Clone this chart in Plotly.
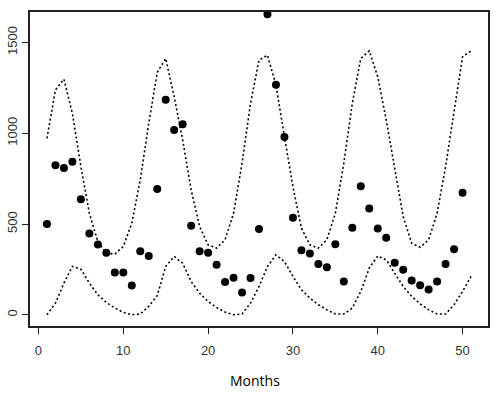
import plotly.graph_objects as go

months = list(range(1, 51))
observed = [500, 823, 808, 843, 636, 447, 387, 341, 233, 233,
            161, 350, 324, 693, 1184, 1018, 1049, 490, 350, 341,
            275, 180, 204, 123, 202, 473, 1656, 1267, 979, 535,
            356, 337, 280, 262, 389, 183, 480, 708, 585, 475,
            424, 286, 248, 189, 163, 139, 183, 279, 361, 672]

band_months = list(range(1, 52))
upper = [972, 1238, 1298, 1109, 816, 559, 403, 339, 334, 376,
         504, 743, 1054, 1335, 1412, 1201, 963, 688, 486, 385,
         367, 413, 559, 834, 1164, 1403, 1430, 1265, 981, 706,
         477, 385, 367, 413, 559, 834, 1164, 1412, 1454, 1311,
         1073, 798, 541, 394, 372, 413, 559, 816, 1128, 1421, 1454]
lower = [0, 64, 174, 266, 251, 174, 110, 68, 37, 13,
         0, 4, 46, 105, 266, 321, 284, 183, 119, 73,
         40, 15, 0, 4, 64, 156, 266, 330, 293, 211,
         138, 92, 55, 27, 4, 4, 37, 128, 257, 324,
         302, 229, 156, 101, 60, 27, 4, 4, 55, 128, 211]

x_ticks = [0, 10, 20, 30, 40, 50]
y_ticks = [0, 500, 1000, 1500]

fig = go.Figure()
for band in (upper, lower):
    fig.add_trace(go.Scatter(x=band_months, y=band, mode="lines",
                             line=dict(color="black", width=1.6, dash="2px,2.5px"),
                             showlegend=False, hoverinfo="skip"))
fig.add_trace(go.Scatter(x=months, y=observed, mode="markers",
                         marker=dict(color="black", size=8),
                         showlegend=False, cliponaxis=False))

axis_common = dict(showline=True, linecolor="#222", linewidth=1.5, mirror=True,
                   showgrid=False, zeroline=False, ticks="outside", ticklen=6,
                   tickcolor="#222", tickwidth=1, automargin=False,
                   tickfont=dict(family="Liberation Sans, Arial", size=13, color="#333"))

fig.update_layout(
    template="none",
    width=498, height=393,
    margin=dict(l=30, r=10, t=12, b=67),
    paper_bgcolor="white", plot_bgcolor="white",
    xaxis=dict(range=[-1, 53], tickvals=x_ticks, ticklabelstandoff=6, **axis_common),
    yaxis=dict(range=[-62, 1668], tickvals=y_ticks, tickangle=-90,
               ticklabelstandoff=0, **axis_common),
    annotations=[dict(text="Months", xref="paper", yref="paper",
                      x=(255 - 30) / 458, y=(326 - 380) / 314,
                      xanchor="center", yanchor="middle", showarrow=False,
                      font=dict(family="Open Sans", size=14, color="black"))],
)

fig.write_html("out.html", config={"displayModeBar": False},
               post_script="document.body.style.margin='0';")
